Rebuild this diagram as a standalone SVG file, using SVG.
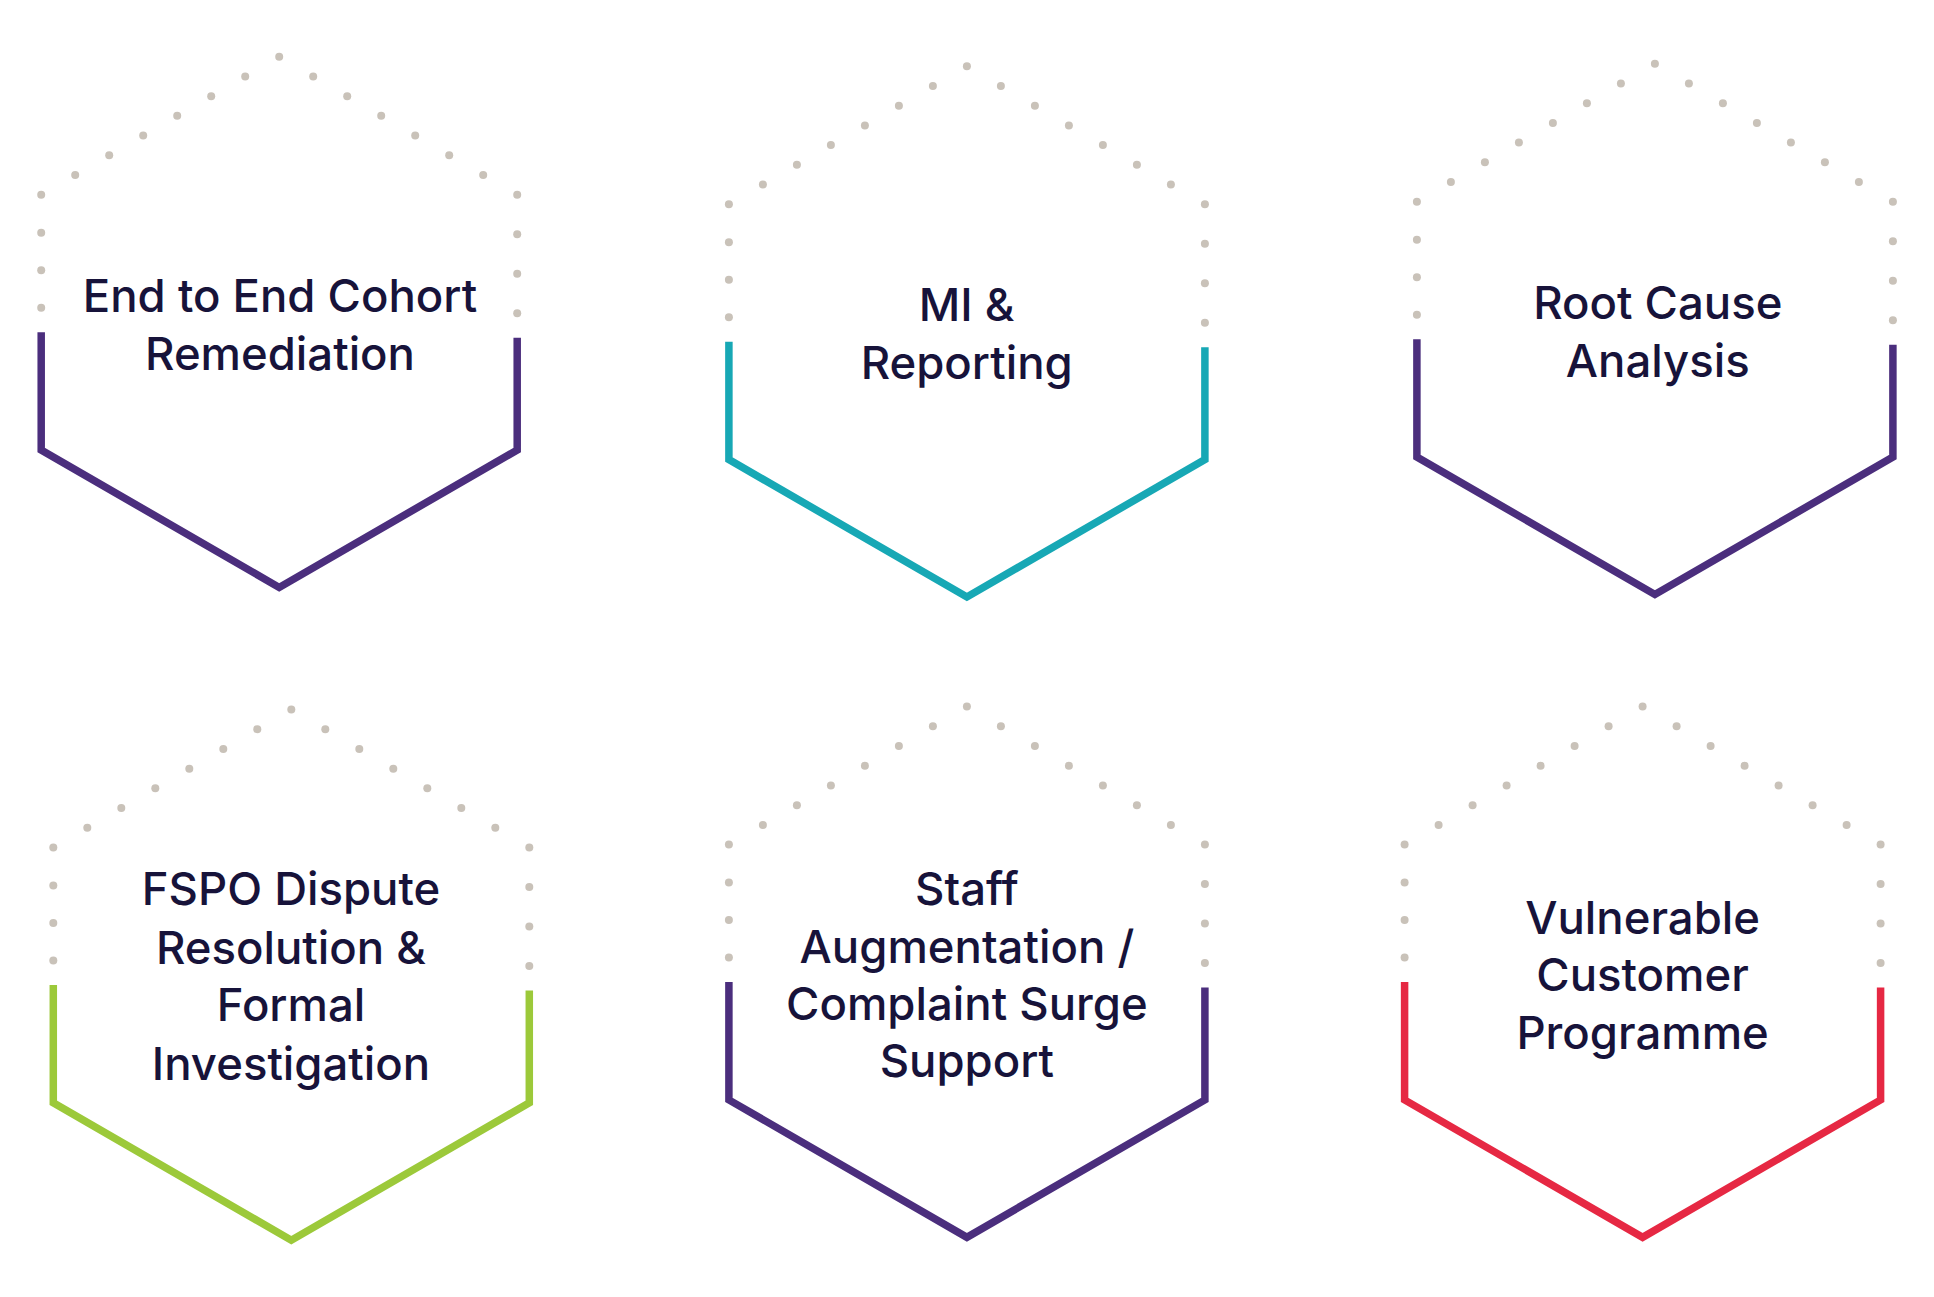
<svg xmlns="http://www.w3.org/2000/svg" xmlns:xlink="http://www.w3.org/1999/xlink" width="1934" height="1297" viewBox="0 0 1934 1297">
<style>
.dot{fill:#c9c2b9}
.frame{fill:none;stroke-width:7.5;stroke-linejoin:miter;stroke-linecap:butt}
.purple{stroke:#4b2e7d}
.teal{stroke:#17a8b5}
.green{stroke:#9cc93a}
.red{stroke:#e62843}
.label{font-family:Inter,Lato,"Noto Sans","Liberation Sans",sans-serif;font-size:45.5px;font-weight:500;fill:#17133a;text-anchor:middle}
</style>
<defs>
<g id="dots">
<circle class="dot" cx="0" cy="0" r="4"/>
<circle class="dot" cx="-34" cy="19.71" r="4"/>
<circle class="dot" cx="-68" cy="39.43" r="4"/>
<circle class="dot" cx="-102" cy="59.14" r="4"/>
<circle class="dot" cx="-136" cy="78.86" r="4"/>
<circle class="dot" cx="-170" cy="98.57" r="4"/>
<circle class="dot" cx="-204" cy="118.29" r="4"/>
<circle class="dot" cx="-238" cy="138" r="4"/>
<circle class="dot" cx="-238" cy="176" r="4"/>
<circle class="dot" cx="-238" cy="213.5" r="4"/>
<circle class="dot" cx="-238" cy="251" r="4"/>
<circle class="dot" cx="34" cy="19.71" r="4"/>
<circle class="dot" cx="68" cy="39.43" r="4"/>
<circle class="dot" cx="102" cy="59.14" r="4"/>
<circle class="dot" cx="136" cy="78.86" r="4"/>
<circle class="dot" cx="170" cy="98.57" r="4"/>
<circle class="dot" cx="204" cy="118.29" r="4"/>
<circle class="dot" cx="238" cy="138" r="4"/>
<circle class="dot" cx="238" cy="177.5" r="4"/>
<circle class="dot" cx="238" cy="217" r="4"/>
<circle class="dot" cx="238" cy="256.5" r="4"/>
</g>
<path id="frame" d="M -238 275.5 V 393.3 L 0 530.7 L 238 393.3 V 281"/>
</defs>
<rect width="1934" height="1297" fill="#ffffff"/>

<g id="node-cohort-remediation">
<use xlink:href="#dots" href="#dots" x="279.2" y="56.7"/>
<use xlink:href="#frame" href="#frame" x="279.2" y="56.7" class="frame purple"/>
<text class="label"><tspan x="280" y="311.7">End to End Cohort</tspan><tspan x="280" y="370">Remediation</tspan></text>
</g>

<g id="node-mi-reporting">
<use xlink:href="#dots" href="#dots" x="966.9" y="66.25"/>
<use xlink:href="#frame" href="#frame" x="966.9" y="66.25" class="frame teal"/>
<text class="label"><tspan x="966.7" y="321">MI &amp;</tspan><tspan x="966.7" y="379">Reporting</tspan></text>
</g>

<g id="node-root-cause">
<use xlink:href="#dots" href="#dots" x="1654.9" y="63.75"/>
<use xlink:href="#frame" href="#frame" x="1654.9" y="63.75" class="frame purple"/>
<text class="label"><tspan x="1657.8" y="318.75">Root Cause</tspan><tspan x="1657.8" y="377">Analysis</tspan></text>
</g>

<g id="node-fspo">
<use xlink:href="#dots" href="#dots" x="291.3" y="709.5"/>
<use xlink:href="#frame" href="#frame" x="291.3" y="709.5" class="frame green"/>
<text class="label"><tspan x="291" y="905.3">FSPO Dispute</tspan><tspan x="291" y="963.7">Resolution &amp;</tspan><tspan x="291" y="1021.2">Formal</tspan><tspan x="291" y="1079.5">Investigation</tspan></text>
</g>

<g id="node-staff-augmentation">
<use xlink:href="#dots" href="#dots" x="966.9" y="706.6"/>
<use xlink:href="#frame" href="#frame" x="966.9" y="706.6" class="frame purple"/>
<text class="label"><tspan x="966.9" y="904.5">Staff</tspan><tspan x="966.9" y="962.8">Augmentation /</tspan><tspan x="966.9" y="1019.9">Complaint Surge</tspan><tspan x="966.9" y="1077.4">Support</tspan></text>
</g>

<g id="node-vulnerable-customer">
<use xlink:href="#dots" href="#dots" x="1642.6" y="706.6"/>
<use xlink:href="#frame" href="#frame" x="1642.6" y="706.6" class="frame red"/>
<text class="label"><tspan x="1642.6" y="933.7">Vulnerable</tspan><tspan x="1642.6" y="991.2">Customer</tspan><tspan x="1642.6" y="1049">Programme</tspan></text>
</g>

<g id="connectors"></g>
</svg>
